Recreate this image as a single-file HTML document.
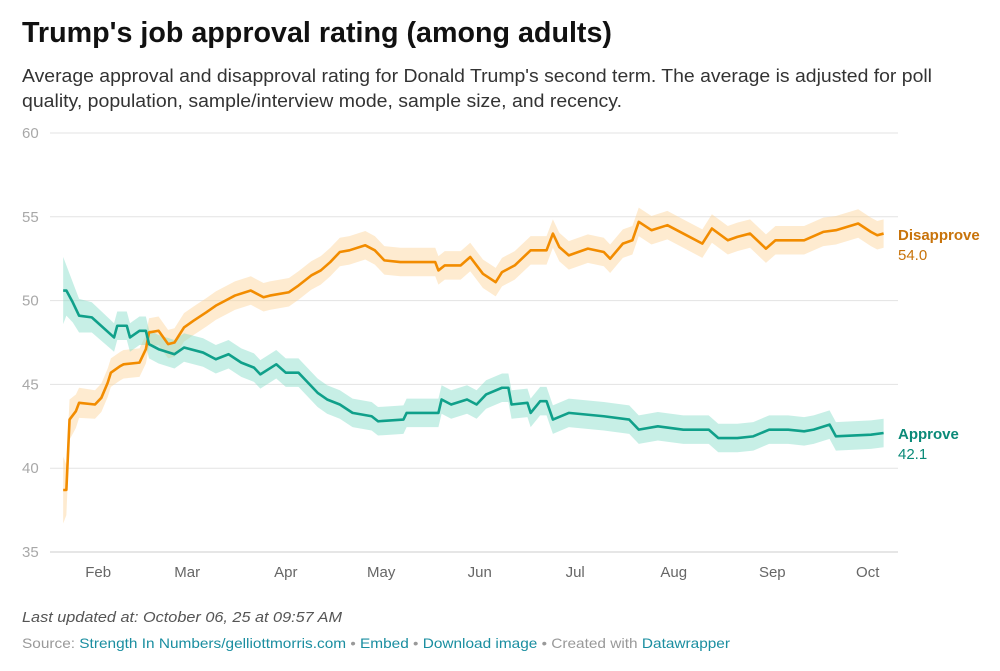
<!DOCTYPE html>
<html><head><meta charset="utf-8"><style>
body{margin:0;background:#fff;width:1000px;height:671px;overflow:hidden}
svg{display:block;font-family:"Liberation Sans",sans-serif}
</style></head><body>
<svg id="chart" width="1000" height="671" viewBox="0 0 1000 671">
<text x="22" y="42" font-size="29" font-weight="bold" fill="#111" textLength="590" lengthAdjust="spacingAndGlyphs">Trump's job approval rating (among adults)</text>
<text x="22" y="82" font-size="18" fill="#333" textLength="910" lengthAdjust="spacingAndGlyphs">Average approval and disapproval rating for Donald Trump's second term. The average is adjusted for poll</text>
<text x="22" y="107" font-size="18" fill="#333" textLength="600" lengthAdjust="spacingAndGlyphs">quality, population, sample/interview mode, sample size, and recency.</text>
<g id="grid"></g><g id="bands"></g><g id="lines"></g><g id="xaxis"></g>
<text x="898" y="240" font-size="15" font-weight="bold" fill="#c8730a">Disapprove</text>
<text x="898" y="260" font-size="15" fill="#c8730a">54.0</text>
<text x="898" y="439" font-size="15" font-weight="bold" fill="#0a8a78">Approve</text>
<text x="898" y="459" font-size="15" fill="#0a8a78">42.1</text>
<text x="22" y="622" font-size="15" font-style="italic" fill="#555" textLength="320" lengthAdjust="spacingAndGlyphs">Last updated at: October 06, 25 at 09:57 AM</text>
<text x="22" y="648" font-size="14" fill="#999" textLength="708" lengthAdjust="spacingAndGlyphs">Source: <tspan fill="#1a8ea0">Strength In Numbers/gelliottmorris.com</tspan> • <tspan fill="#1a8ea0">Embed</tspan>  • <tspan fill="#1a8ea0">Download image</tspan> • Created with <tspan fill="#1a8ea0">Datawrapper</tspan></text>
</svg>
<script>
const yTicks=[60,55,50,45,40,35];
const monthLabels=["Feb","Mar","Apr","May","Jun","Jul","Aug","Sep","Oct"];
const monthDays=[12,40,71,101,132,162,193,224,254];
const disDays=[1,2,3,5,6,11,13,15,16,19,20,25,27,28,31,34,36,39,42,46,49,52,55,60,64,66,72,75,79,82,85,88,91,96,99,102,107,113,118,119,121,126,129,133,137,139,143,148,153,155,157,160,166,171,173,177,180,182,186,191,196,202,205,210,213,217,222,225,234,240,244,251,255,257,259];
const disapprove=[38.7,38.7,42.9,43.4,43.9,43.8,44.2,45.1,45.7,46.1,46.2,46.3,47.1,48.1,48.2,47.4,47.5,48.4,48.8,49.3,49.7,50.0,50.3,50.6,50.2,50.3,50.5,50.9,51.5,51.8,52.3,52.9,53.0,53.3,53.0,52.4,52.3,52.3,52.3,51.8,52.1,52.1,52.6,51.6,51.1,51.7,52.1,53.0,53.0,54.0,53.2,52.7,53.1,52.9,52.5,53.4,53.6,54.7,54.2,54.5,54.0,53.4,54.3,53.6,53.8,54.0,53.1,53.6,53.6,54.1,54.2,54.6,54.1,53.9,54.0];
const appDays=[1,2,4,6,10,17,18,21,22,25,27,28,31,36,39,45,49,53,57,61,63,68,71,75,81,84,88,92,98,100,108,109,119,120,123,128,131,134,139,141,142,147,148,151,153,155,160,171,179,182,188,196,204,207,213,218,223,229,234,237,242,244,255,259];
const approve=[50.6,50.6,49.9,49.1,49.0,47.8,48.5,48.5,47.8,48.2,48.2,47.4,47.1,46.8,47.2,46.9,46.5,46.8,46.3,46.0,45.6,46.2,45.7,45.7,44.5,44.1,43.8,43.3,43.1,42.8,42.9,43.3,43.3,44.1,43.8,44.1,43.8,44.4,44.8,44.8,43.8,43.9,43.3,44.0,44.0,42.9,43.3,43.1,42.9,42.3,42.5,42.3,42.3,41.8,41.8,41.9,42.3,42.3,42.2,42.3,42.6,41.9,42.0,42.1];
const bandMargin=[2.0,1.5,1.2,1.0,0.9];
const NS="http://www.w3.org/2000/svg";
const X=d=>60+d*3.18;
const Y=v=>133+(60-v)*16.76;
const marg=i=>i<bandMargin.length?bandMargin[i]:0.85;
function mk(tag,attrs,parent){const e=document.createElementNS(NS,tag);for(const k in attrs)e.setAttribute(k,attrs[k]);parent.appendChild(e);return e;}
const grid=document.getElementById('grid');
yTicks.forEach(t=>{
  const l=mk('line',{x1:50,x2:898,y1:Y(t),y2:Y(t),stroke:t===35?'#ccc':'#e3e3e3','stroke-width':1},grid);
  
  
  const tx=mk('text',{x:22,y:Y(t)+5,'font-size':15,fill:'#a8a8a8'},grid);
  tx.textContent=t;
  
  
});
const xa=document.getElementById('xaxis');
monthLabels.forEach((m,i)=>{
  const t=mk('text',{x:X(monthDays[i]),y:577,'font-size':15,fill:'#666','text-anchor':'middle'},xa);
  t.textContent=m;
  
  
});
function series(days,vals,line,band,name){
  let up=days.map((d,i)=>X(d)+','+Y(vals[i]+marg(i)));
  let lo=days.map((d,i)=>X(d)+','+Y(vals[i]-marg(i))).reverse();
  const b=mk('polygon',{points:up.concat(lo).join(' '),fill:band},document.getElementById('bands'));
  
  
  const p=mk('polyline',{points:days.map((d,i)=>X(d)+','+Y(vals[i])).join(' '),fill:'none',stroke:line,'stroke-width':2.6,'stroke-linejoin':'round'},document.getElementById('lines'));
  
  
}
series(disDays,disapprove,'#f28c00','rgba(253,211,150,0.45)','disapprove');
series(appDays,approve,'#10a08a','rgba(130,220,200,0.45)','approve');
</script>
</body></html>
